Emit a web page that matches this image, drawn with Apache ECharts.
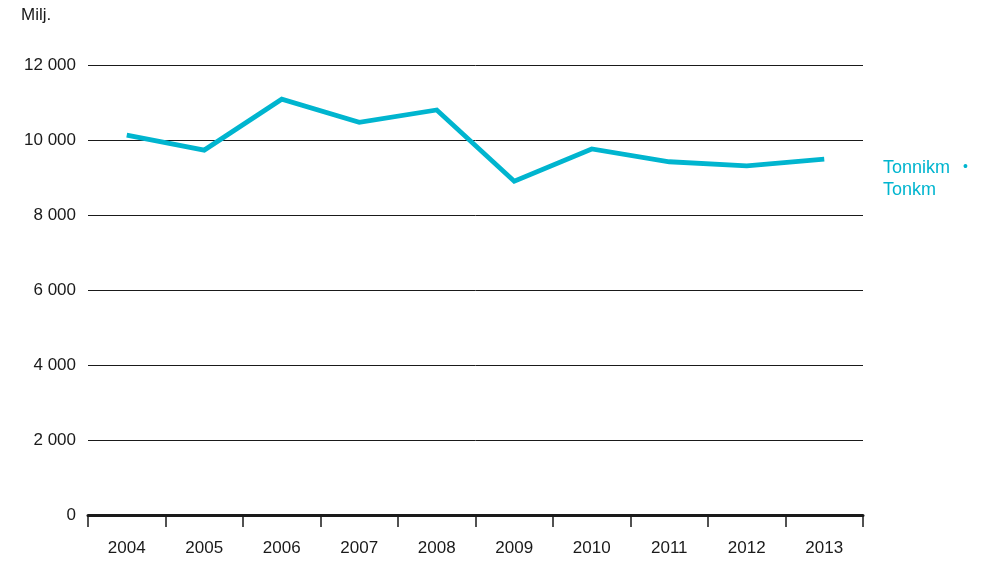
<!DOCTYPE html>
<html>
<head>
<meta charset="utf-8">
<script src="https://cdn.jsdelivr.net/npm/echarts@6/dist/echarts.min.js"></script>
<style>
  html, body { margin: 0; padding: 0; background: #fff; }
  #chart { width: 984px; height: 579px; }
</style>
</head>
<body>
<div id="chart"></div>
<script>
// data
const years = ["2004", "2005", "2006", "2007", "2008", "2009", "2010", "2011", "2012", "2013"];
const tonkm = [10130, 9730, 11090, 10470, 10800, 8900, 9760, 9420, 9310, 9490];
const seriesLabels = ["Tonnikm", "Tonkm"];
const unitLabel = "Milj.";

const font = '"Liberation Sans", Arial, sans-serif';
const lineColor = "#00b5cf";

const chart = echarts.init(document.getElementById("chart"));

const option = {
  animation: false,
  grid: { left: 88, right: 121, top: 65, bottom: 64, containLabel: false },
  xAxis: {
    type: "category",
    data: years,
    boundaryGap: true,
    axisLine: { show: true, lineStyle: { color: "#1a1a1a", width: 3 } },
    axisTick: { show: true, alignWithLabel: false, length: 12, lineStyle: { color: "#1a1a1a", width: 1.5 } },
    axisLabel: { color: "#1a1a1a", fontSize: 17, fontFamily: font, margin: 25 },
    splitLine: { show: false }
  },
  yAxis: {
    type: "value",
    min: 0,
    max: 12000,
    interval: 2000,
    axisLine: { show: false },
    axisTick: { show: false },
    axisLabel: {
      color: "#1a1a1a",
      fontSize: 17,
      fontFamily: font,
      margin: 12,
      formatter: v => String(v).replace(/\B(?=(\d{3})+(?!\d))/g, " ")
    },
    splitLine: { show: true, lineStyle: { color: "#1a1a1a", width: 1 } }
  },
  series: [
    {
      name: seriesLabels[0],
      type: "line",
      data: tonkm,
      symbol: "none",
      lineStyle: { color: lineColor, width: 4.8, join: "miter" },
      z: 3
    }
  ],
  graphic: [
    {
      type: "text",
      left: 21,
      top: 7,
      style: { text: unitLabel, fill: "#1a1a1a", font: "17px " + font }
    },
    {
      type: "text",
      left: 883,
      top: 159,
      style: { text: seriesLabels[0], fill: lineColor, font: "18px " + font }
    },
    {
      type: "text",
      left: 883,
      top: 181,
      style: { text: seriesLabels[1], fill: lineColor, font: "18px " + font }
    },
    {
      type: "text",
      left: 963,
      top: 160,
      style: { text: "•", fill: lineColor, font: "14px " + font }
    }
  ]
};

chart.setOption(option);
</script>
</body>
</html>
